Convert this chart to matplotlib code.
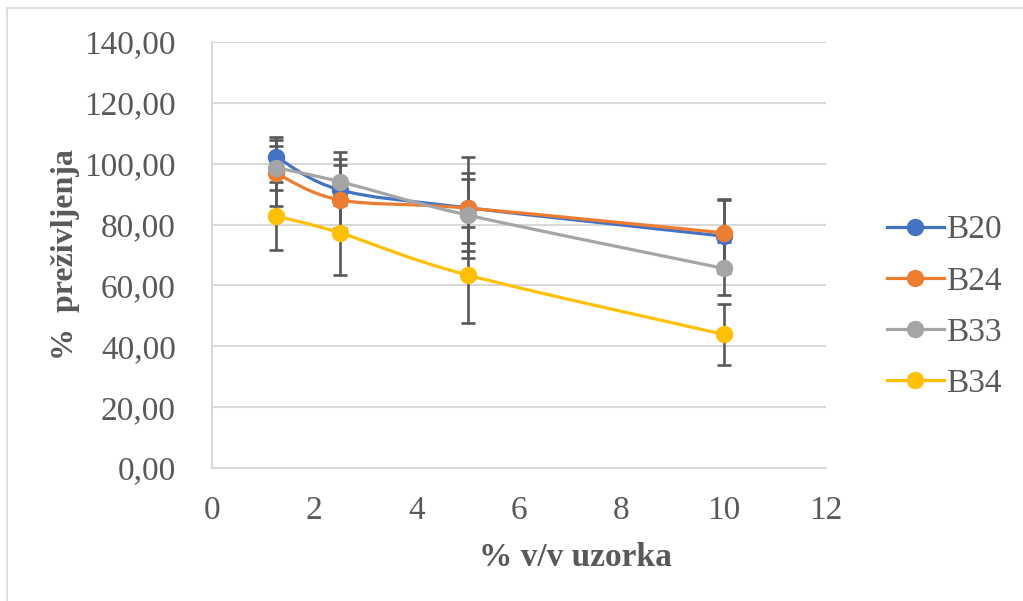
import numpy as np
import matplotlib
matplotlib.use("Agg")
import matplotlib.pyplot as plt
from matplotlib.path import Path
from matplotlib.patches import PathPatch
from matplotlib.lines import Line2D

# ---- data ----
x_vals = [1.25, 2.5, 5, 10]
series_names = ["B20", "B24", "B33", "B34"]
b20 = [102.3, 91.4, 85.5, 76.2]
b24 = [96.9, 88.1, 85.4, 77.3]
b33 = [98.7, 94.1, 83.1, 65.6]
b34 = [82.8, 77.3, 63.4, 43.9]
b20_err = [6.4, 12.5, 16.6, 12.0]
b24_err = [10.9, 11.5, 11.6, 11.2]
b33_err = [7.2, 7.6, 11.8, 8.8]
b34_err = [11.2, 13.9, 15.8, 10.0]
y_ticks = [0, 20, 40, 60, 80, 100, 120, 140]
x_ticks = [0, 2, 4, 6, 8, 10, 12]

colors = ["#4472C4", "#ED7D31", "#A5A5A5", "#FFC000"]
values = [b20, b24, b33, b34]
errors = [b20_err, b24_err, b33_err, b34_err]

SERIF = ["Liberation Serif", "DejaVu Serif"]
TXT = "#595959"

W, H = 1023, 601
fig = plt.figure(figsize=(W / 100, H / 100), dpi=100)
ax = fig.add_axes([212 / W, 1 - 468 / H, (826 - 212) / W, (468 - 42) / H])

# chart area border (left and top visible)
fig.add_artist(Line2D([7 / W, 7 / W], [0, 1 - 8 / H], transform=fig.transFigure,
                      color="#D9D9D9", lw=1.2))
fig.add_artist(Line2D([7 / W, 1], [1 - 8 / H, 1 - 8 / H], transform=fig.transFigure,
                      color="#D9D9D9", lw=1.2))


def smooth_path(xs, ys):
    pts = np.column_stack([xs, ys]).astype(float)
    n = len(pts)
    verts = [pts[0]]
    codes = [Path.MOVETO]
    for i in range(n - 1):
        p0 = pts[i - 1] if i > 0 else pts[i]
        p1 = pts[i]
        p2 = pts[i + 1]
        p3 = pts[i + 2] if i + 2 < n else pts[i + 1]
        c1 = p1 + (p2 - p0) / 6.0
        c2 = p2 - (p3 - p1) / 6.0
        verts += [c1, c2, p2]
        codes += [Path.CURVE4] * 3
    return Path(verts, codes)


for name, vals, err, col in zip(series_names, values, errors, colors):
    ax.errorbar(x_vals, vals, yerr=err, fmt="none", ecolor="#595959",
                elinewidth=1.9, capsize=5, capthick=1.9, zorder=2)

for name, vals, err, col in zip(series_names, values, errors, colors):
    patch = PathPatch(smooth_path(x_vals, vals), facecolor="none", edgecolor=col,
                      lw=2.3, zorder=3, capstyle="round", joinstyle="round")
    ax.add_patch(patch)
    ax.plot(x_vals, vals, linestyle="none", marker="o", markersize=11.5,
            color=col, markeredgecolor=col, zorder=4)

ax.set_xlim(0, 12)
ax.set_ylim(0, 140)
ax.set_xticks(x_ticks)
ax.set_yticks(y_ticks)
ax.set_xticklabels([str(t) for t in x_ticks], family=SERIF, fontsize=24, color=TXT)
ax.set_yticklabels([f"{t:.2f}".replace(".", ",") for t in y_ticks], family=SERIF,
                   fontsize=24, color=TXT)
ax.tick_params(axis="y", length=0, pad=26)
ax.tick_params(axis="x", length=0, pad=20)

ax.yaxis.grid(True, color="#D9D9D9", lw=1.5)
ax.set_axisbelow(True)
for s in ["top", "right"]:
    ax.spines[s].set_visible(False)
ax.spines["left"].set_color("#D9D9D9")
ax.spines["left"].set_linewidth(1.5)
ax.spines["bottom"].set_color("#D9D9D9")
ax.spines["bottom"].set_linewidth(1.5)

fig.text(575 / W, 1 - 557 / H, "% v/v uzorka", family=SERIF, fontsize=24,
         fontweight="bold", color=TXT, ha="center", va="center")
fig.text(65 / W, 1 - 255 / H, "%  preživljenja", family=SERIF, fontsize=23,
         fontweight="bold", color=TXT, ha="center", va="center", rotation=90)

handles = [Line2D([0], [0], color=c, lw=2.3, marker="o", markersize=11.5) for c in colors]
leg = fig.legend(handles, series_names, loc="center left",
                 bbox_to_anchor=(887 / W, 1 - 307 / H), frameon=False,
                 prop={"family": SERIF, "size": 24}, labelcolor=TXT,
                 handlelength=1.7, handletextpad=0.08, labelspacing=0.62,
                 borderaxespad=0, borderpad=0)

fig.savefig("out.png", dpi=100)
